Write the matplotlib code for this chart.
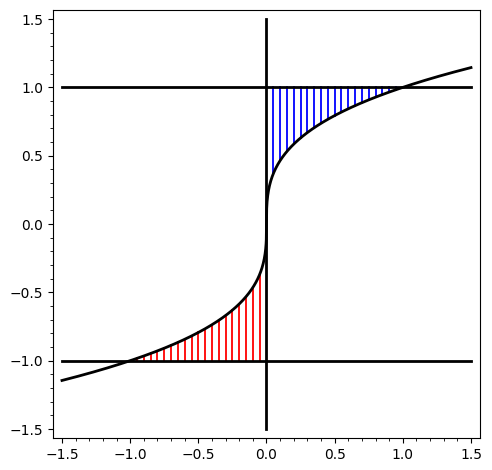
import numpy as np
import matplotlib
matplotlib.use("Agg")
import matplotlib.pyplot as plt
from matplotlib.ticker import MultipleLocator

# curve domain and reference levels
x_min, x_max = -1.5, 1.5
levels = [1.0, -1.0]
vline_x = 0.0
vline_range = [-1.5, 1.5]
# hatch positions
blue_x = [0.05, 0.10, 0.15, 0.20, 0.25, 0.30, 0.35, 0.40, 0.45, 0.50,
          0.55, 0.60, 0.65, 0.70, 0.75, 0.80, 0.85, 0.90, 0.95]
red_x = [-0.95, -0.90, -0.85, -0.80, -0.75, -0.70, -0.65, -0.60, -0.55, -0.50,
         -0.45, -0.40, -0.35, -0.30, -0.25, -0.20, -0.15, -0.10, -0.05]

fig = plt.figure(figsize=(4.92, 4.70), dpi=100)
ax = fig.add_axes([0.1077, 0.068, 0.8679, 0.9107])

for xv in blue_x:
    ax.plot([xv, xv], [np.cbrt(xv), 1.0], color="blue", lw=1.3, zorder=2)
for xv in red_x:
    ax.plot([xv, xv], [-1.0, np.cbrt(xv)], color="red", lw=1.3, zorder=2)

for lv in levels:
    ax.plot([x_min, x_max], [lv, lv], color="black", lw=2, zorder=3)
ax.plot([vline_x, vline_x], vline_range, color="black", lw=2, zorder=3)

xs = np.linspace(x_min, x_max, 2001)
ax.plot(xs, np.cbrt(xs), color="black", lw=2, zorder=4)

ax.set_xlim(-1.566, 1.566)
ax.set_ylim(-1.566, 1.566)
ax.xaxis.set_major_locator(MultipleLocator(0.5))
ax.yaxis.set_major_locator(MultipleLocator(0.5))
ax.xaxis.set_minor_locator(MultipleLocator(0.1))
ax.yaxis.set_minor_locator(MultipleLocator(0.1))

fig.savefig("out.png", dpi=100)
